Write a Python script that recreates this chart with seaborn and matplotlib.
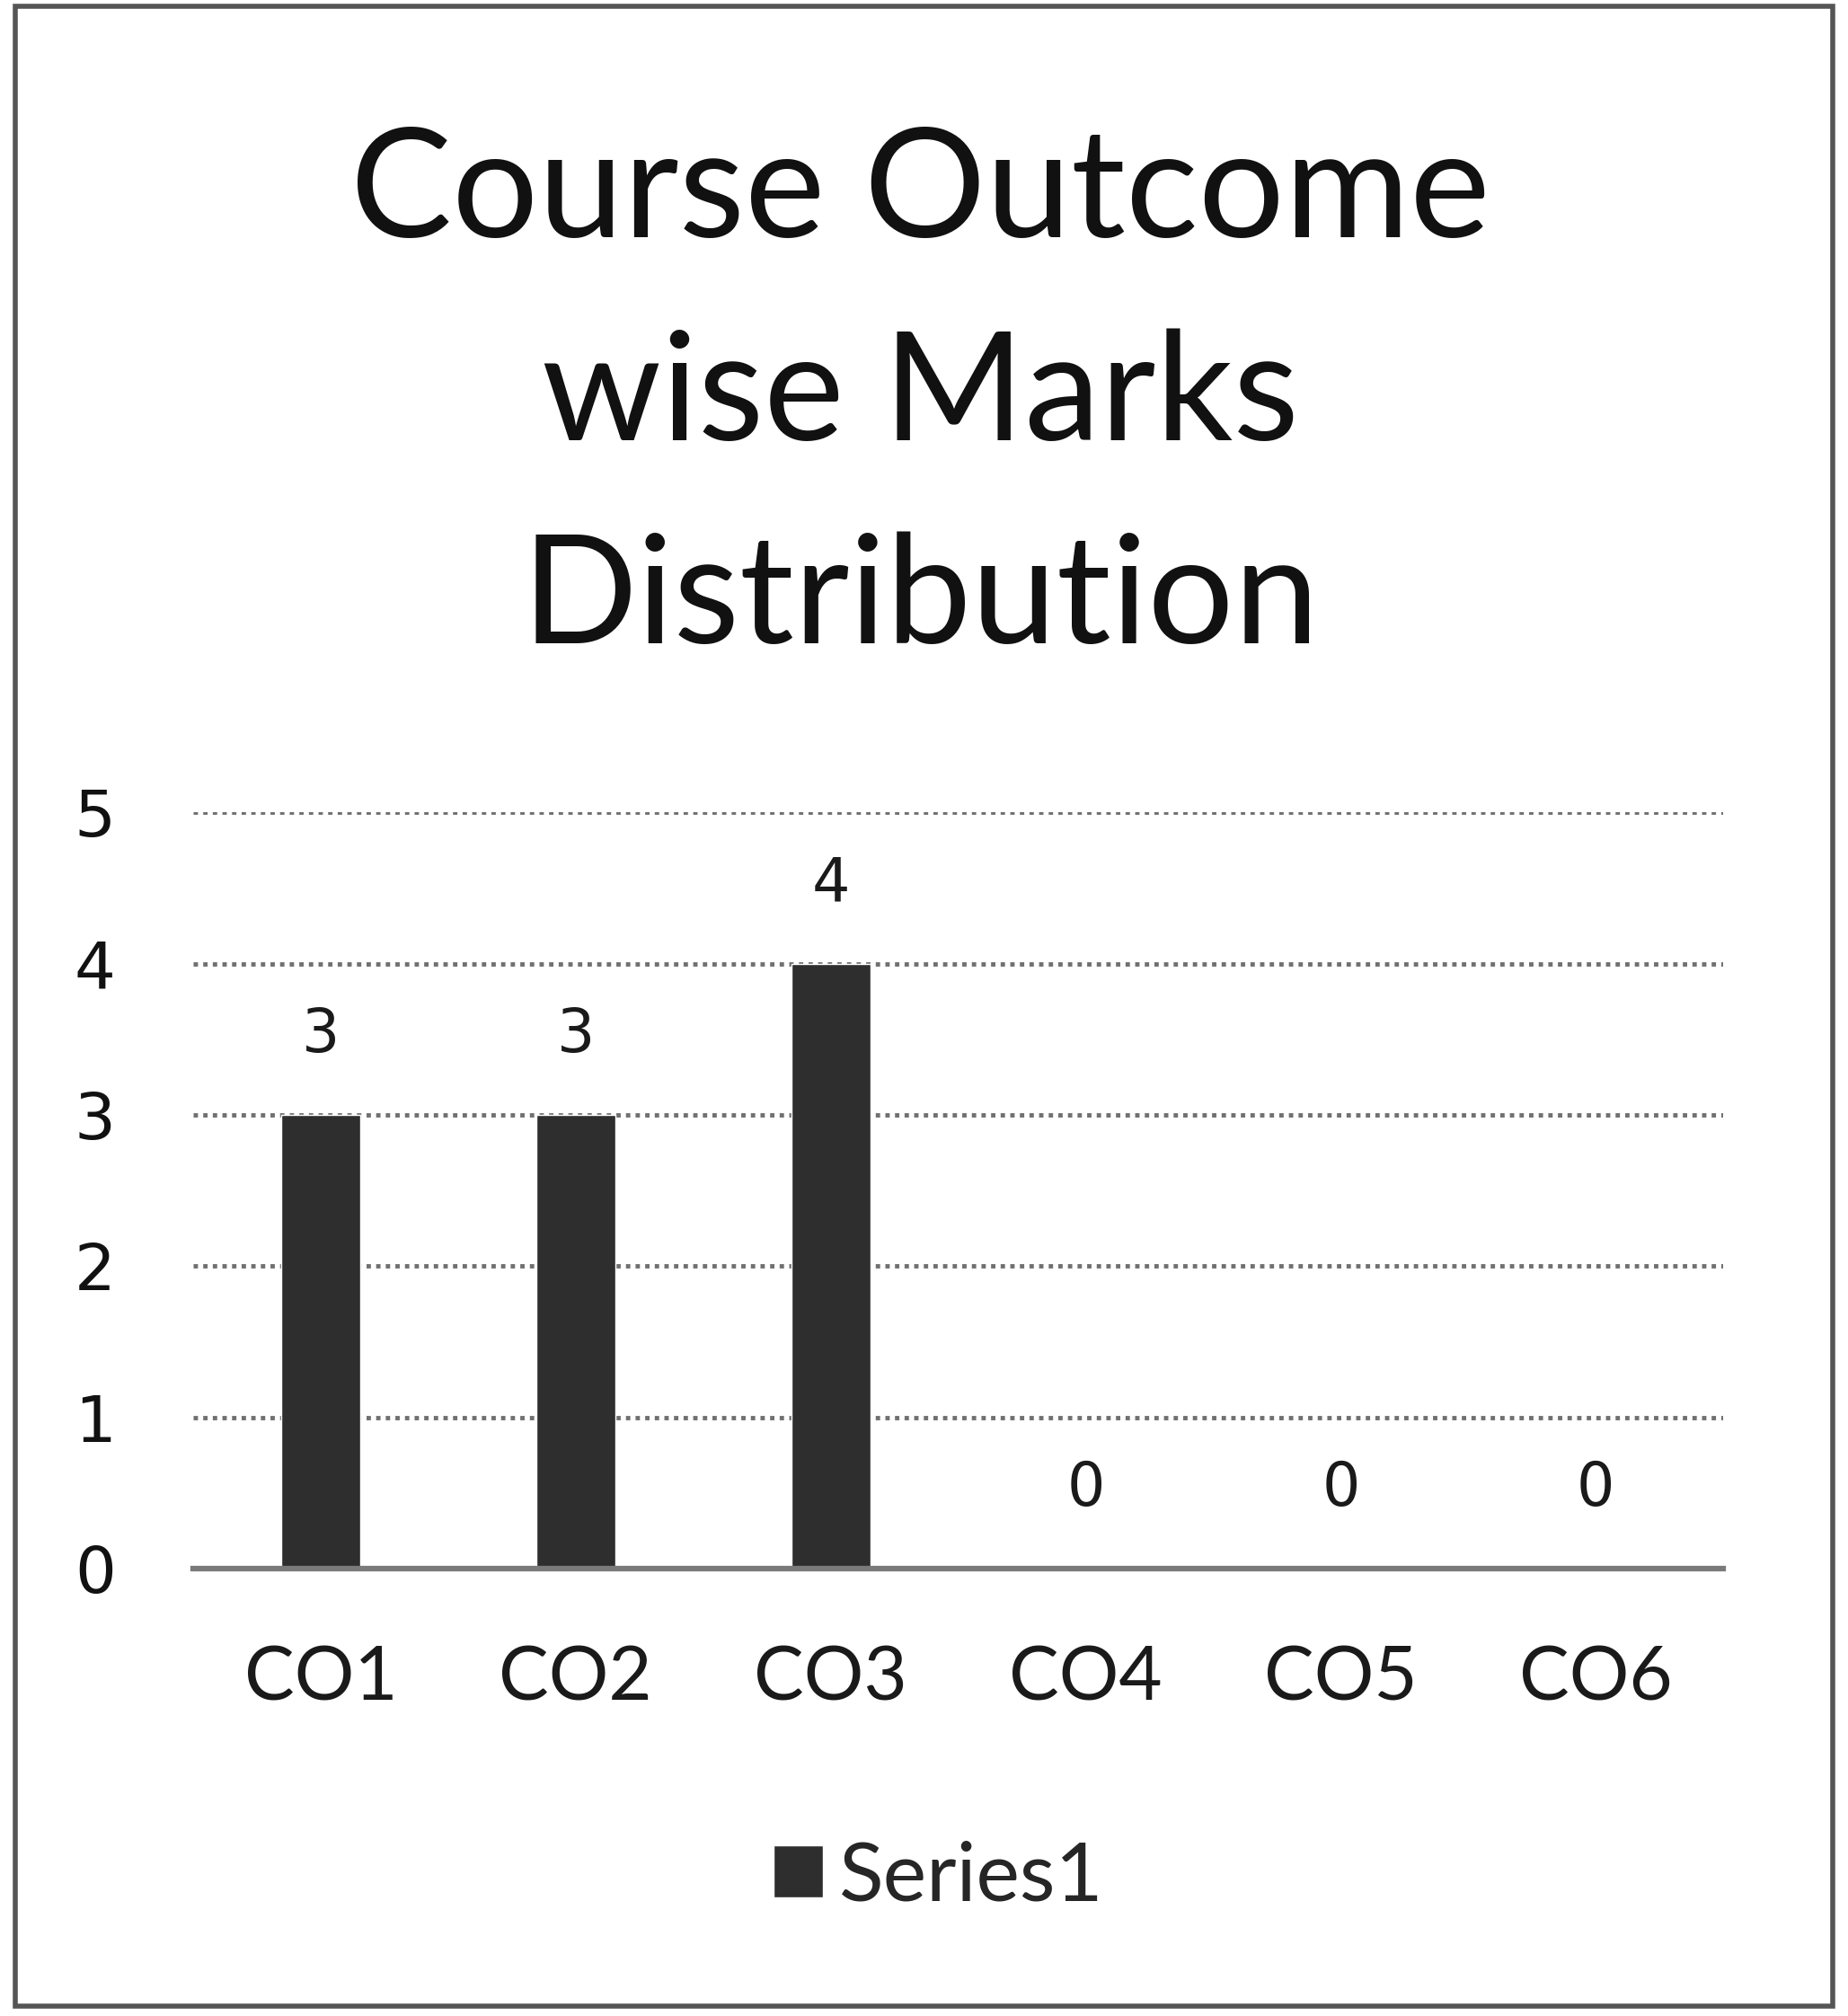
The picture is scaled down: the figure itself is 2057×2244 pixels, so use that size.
import pandas as pd
import matplotlib.pyplot as plt
import seaborn as sns
from matplotlib.patches import Rectangle

# chart values
outcomes = ['CO1', 'CO2', 'CO3', 'CO4', 'CO5', 'CO6']
marks = [3, 3, 4, 0, 0, 0]
series_name = 'Series1'
y_ticks = [0, 1, 2, 3, 4, 5]
title_lines = ['Course Outcome', 'wise Marks', 'Distribution']

df = pd.DataFrame({'outcome': outcomes, 'marks': marks})

sns.set_theme(style="white")
plt.rcParams['font.family'] = ['Lato', 'DejaVu Sans']

fig = plt.figure(figsize=(20.57, 22.44), dpi=100)
ax = fig.add_axes([0.1045, 0.222, 0.828, 0.375])

bar_color = '#2e2e2e'
sns.barplot(data=df, x='outcome', y='marks', color=bar_color, width=0.31,
            saturation=1, label=series_name, ax=ax)

ax.set_ylim(0, 5)
ax.set_yticks(y_ticks)
ax.set_xlim(-0.5, len(outcomes) - 0.5)
ax.set_xlabel('')
ax.set_ylabel('')

# gridlines like the Excel chart
ax.yaxis.grid(True, color='#707070', linestyle=(0, (1, 1.2)), linewidth=3.5)
ax.set_axisbelow(True)
for s in ['top', 'right', 'left']:
    ax.spines[s].set_visible(False)
ax.spines['bottom'].set_color('#7a7a7a')
ax.spines['bottom'].set_linewidth(4.5)

ax.tick_params(axis='y', length=0, pad=62, labelsize=52, labelcolor='#111111')
ax.tick_params(axis='x', length=0, pad=62, labelsize=60, labelcolor='#1a1a1a')
for lbl in ax.get_yticklabels():
    lbl.set_family('DejaVu Sans')

for cont in ax.containers:
    ax.bar_label(cont, labels=[str(v) for v in marks], padding=40,
                 fontsize=48, family='DejaVu Sans', color='#1a1a1a')

leg = ax.legend(loc='center', bbox_to_anchor=(0.508, 0.0686), bbox_transform=fig.transFigure,
                frameon=False, fontsize=66, handlelength=0.6, handleheight=0.6,
                handletextpad=0.2)

fig.text(0.498, 0.803, '\n'.join(title_lines), ha='center', va='center',
         fontsize=122, linespacing=1.58, color='#111111')

# outer chart border
fig.add_artist(Rectangle((17 / 2057, 11 / 2244), 2023 / 2057, 2226 / 2244,
                         transform=fig.transFigure, fill=False,
                         edgecolor='#555555', linewidth=4))

fig.savefig('out.png', dpi=100, facecolor='white')
